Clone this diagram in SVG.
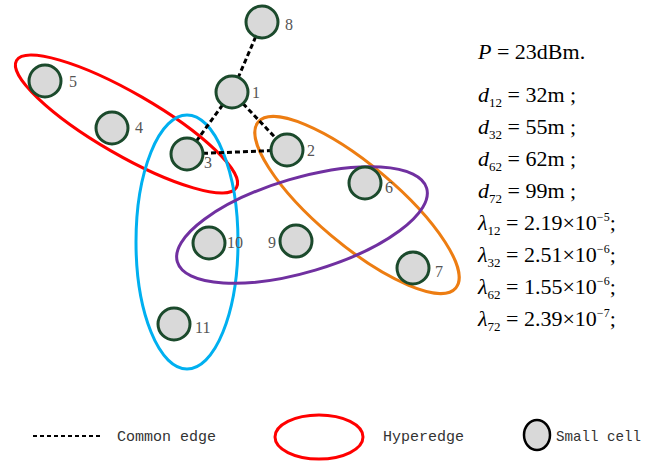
<svg xmlns="http://www.w3.org/2000/svg" width="645" height="463" viewBox="0 0 645 463">
<style>
.node{fill:#d9d9d9;stroke:#1b4a2c;stroke-width:3}
.lbl{font-family:"Liberation Serif",serif;font-size:16px;fill:#555}
.edge{stroke:#000;stroke-width:3;stroke-dasharray:5 3;fill:none}
.hyper{fill:none;stroke-width:3}
.f{font-family:"Liberation Serif",serif;font-size:22px;fill:#000}
.i{font-style:italic}
.sub{font-size:13px}
.sup{font-size:12px}
.leg{font-family:"Liberation Mono",monospace;font-size:15px;fill:#333}
</style>
<rect width="645" height="463" fill="#fff"/>
<g id="hyperedges">
<ellipse class="hyper" stroke="#ff0000" cx="126.5" cy="124" rx="127" ry="31" transform="rotate(30 126.5 124)"/>
<ellipse class="hyper" stroke="#00b0f0" cx="187" cy="242" rx="51" ry="127"/>
<ellipse class="hyper" stroke="#ed7d12" cx="357" cy="205" rx="129" ry="40" transform="rotate(40 357 205)"/>
<ellipse class="hyper" stroke="#7030a0" cx="302" cy="225" rx="130" ry="47" transform="rotate(-16.5 302 225)"/>
</g>
<g id="edges">
<line class="edge" x1="262" y1="22" x2="232" y2="92"/>
<line class="edge" x1="232" y1="92" x2="187" y2="154"/>
<line class="edge" x1="232" y1="92" x2="287" y2="150"/>
<line class="edge" x1="187" y1="154" x2="287" y2="150"/>
</g>
<g id="n8"><circle class="node" cx="262" cy="22" r="16"/><text class="lbl" x="285" y="30">8</text></g>
<g id="n5"><circle class="node" cx="45" cy="81" r="16"/><text class="lbl" x="69" y="87">5</text></g>
<g id="n1"><circle class="node" cx="232" cy="92" r="16"/><text class="lbl" x="252" y="98">1</text></g>
<g id="n4"><circle class="node" cx="112" cy="128" r="16"/><text class="lbl" x="135" y="133">4</text></g>
<g id="n3"><circle class="node" cx="187" cy="154" r="16"/><text class="lbl" x="204" y="168">3</text></g>
<g id="n2"><circle class="node" cx="287" cy="150" r="16"/><text class="lbl" x="307" y="156">2</text></g>
<g id="n6"><circle class="node" cx="365" cy="183" r="16"/><text class="lbl" x="385" y="193">6</text></g>
<g id="n10"><circle class="node" cx="209" cy="243" r="16"/><text class="lbl" x="227" y="248">10</text></g>
<g id="n9"><circle class="node" cx="296" cy="241" r="16"/><text class="lbl" x="268" y="248">9</text></g>
<g id="n7"><circle class="node" cx="413" cy="268" r="16"/><text class="lbl" x="435" y="277">7</text></g>
<g id="n11"><circle class="node" cx="174" cy="324" r="16"/><text class="lbl" x="195" y="333">11</text></g>
<g id="formulas">
<text class="f" x="478" y="59"><tspan class="i">P</tspan> = 23dBm.</text>
<text class="f" x="478" y="102"><tspan class="i">d</tspan><tspan class="sub" dy="5">12</tspan><tspan dy="-5"> = 32m ;</tspan></text>
<text class="f" x="478" y="134"><tspan class="i">d</tspan><tspan class="sub" dy="5">32</tspan><tspan dy="-5"> = 55m ;</tspan></text>
<text class="f" x="478" y="166"><tspan class="i">d</tspan><tspan class="sub" dy="5">62</tspan><tspan dy="-5"> = 62m ;</tspan></text>
<text class="f" x="478" y="198"><tspan class="i">d</tspan><tspan class="sub" dy="5">72</tspan><tspan dy="-5"> = 99m ;</tspan></text>
<text class="f" x="478" y="230"><tspan class="i">λ</tspan><tspan class="sub" dy="5">12</tspan><tspan dy="-5"> = 2.19×10</tspan><tspan class="sup" dy="-9">−5</tspan><tspan dy="9">;</tspan></text>
<text class="f" x="478" y="262"><tspan class="i">λ</tspan><tspan class="sub" dy="5">32</tspan><tspan dy="-5"> = 2.51×10</tspan><tspan class="sup" dy="-9">−6</tspan><tspan dy="9">;</tspan></text>
<text class="f" x="478" y="294"><tspan class="i">λ</tspan><tspan class="sub" dy="5">62</tspan><tspan dy="-5"> = 1.55×10</tspan><tspan class="sup" dy="-9">−6</tspan><tspan dy="9">;</tspan></text>
<text class="f" x="478" y="326"><tspan class="i">λ</tspan><tspan class="sub" dy="5">72</tspan><tspan dy="-5"> = 2.39×10</tspan><tspan class="sup" dy="-9">−7</tspan><tspan dy="9">;</tspan></text>
</g>
<g id="legend">
<line x1="33" y1="436" x2="103" y2="436" stroke="#000" stroke-width="2" stroke-dasharray="4 3"/>
<text class="leg" x="117" y="441">Common edge</text>
<ellipse cx="319" cy="437" rx="44" ry="22" fill="none" stroke="#ff0000" stroke-width="3"/>
<text class="leg" x="383" y="441">Hyperedge</text>
<ellipse cx="537" cy="435" rx="13" ry="15" fill="#d9d9d9" stroke="#000" stroke-width="2.5"/>
<text class="leg" x="556" y="441" font-size="14" textLength="85" lengthAdjust="spacingAndGlyphs">Small cell</text>
</g>
</svg>
